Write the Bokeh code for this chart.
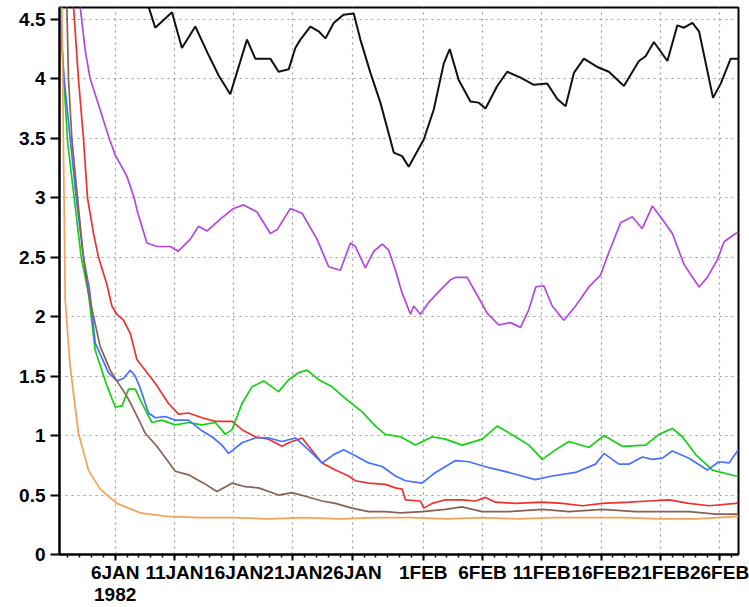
from bokeh.plotting import figure
from bokeh.models import Range1d, FixedTicker, PrintfTickFormatter
from bokeh.embed import file_html
from bokeh.resources import INLINE

# x values are days since 1982-01-01 00:00
tick_days = [5, 10, 15, 20, 25, 31, 36, 41, 46, 51, 56]
tick_labels = ["6JAN\n1982", "11JAN", "16JAN", "21JAN", "26JAN", "1FEB", "6FEB",
               "11FEB", "16FEB", "21FEB", "26FEB"]
y_ticks = [0, 0.5, 1, 1.5, 2, 2.5, 3, 3.5, 4, 4.5]

black_day = [0.3, 4.0, 7.0, 7.81, 8.38, 9.79, 10.63, 11.76, 12.88, 13.72, 14.71,
             16.12, 16.82, 18.09, 18.79, 19.64, 20.20, 20.63, 21.47, 22.17, 22.74,
             23.44, 24.28, 25.13, 25.69, 26.54, 27.38, 28.51, 29.21, 29.77, 31.04,
             31.88, 32.73, 33.23, 33.99, 34.98, 35.68, 36.25, 37.24, 38.08, 39.21,
             40.33, 41.46, 42.31, 43.01, 43.71, 44.55, 45.68, 46.66, 47.93, 49.20,
             49.76, 50.46, 51.60, 52.44, 53.00, 53.71, 54.27, 55.45, 56.10, 56.94, 57.6]
black_val = [8.0, 6.0, 4.9, 4.61, 4.43, 4.56, 4.26, 4.44, 4.20, 4.03, 3.87,
             4.33, 4.17, 4.17, 4.06, 4.08, 4.26, 4.33, 4.44, 4.40, 4.34,
             4.47, 4.54, 4.55, 4.33, 4.05, 3.80, 3.38, 3.35, 3.26, 3.49,
             3.74, 4.13, 4.25, 3.99, 3.81, 3.80, 3.75, 3.94, 4.06, 4.01,
             3.95, 3.96, 3.83, 3.77, 4.05, 4.17, 4.10, 4.06, 3.94, 4.15,
             4.19, 4.31, 4.15, 4.45, 4.43, 4.47, 4.40, 3.84, 3.96, 4.17, 4.17]

purple_day = [0.3, 2.04, 2.47, 2.89, 3.73, 4.49, 5.0, 5.99, 6.6, 6.83, 7.68, 8.52,
              9.65, 10.3, 11.33, 12.04, 12.74, 13.87, 14.99, 15.84, 16.97, 18.09,
              18.66, 19.78, 20.77, 22.04, 23.01, 24.00, 24.85, 25.27, 26.11, 26.82,
              27.53, 28.08, 28.65, 29.21, 29.92, 30.19, 30.76, 31.46, 32.31, 33.29,
              33.72, 34.70, 35.55, 36.39, 37.37, 38.36, 39.21, 39.91, 40.49, 41.17,
              41.88, 42.86, 43.85, 44.97, 45.96, 46.66, 47.65, 48.64, 49.48, 50.33,
              51.17, 52.02, 53.00, 54.27, 54.97, 55.82, 56.38, 57.36, 57.6]
purple_val = [6.1, 4.61, 4.24, 4.0, 3.74, 3.5, 3.36, 3.18, 3.0, 2.90, 2.62, 2.59,
              2.59, 2.55, 2.65, 2.76, 2.72, 2.82, 2.91, 2.94, 2.88, 2.70,
              2.73, 2.91, 2.87, 2.65, 2.42, 2.39, 2.62, 2.59, 2.41, 2.55,
              2.61, 2.56, 2.39, 2.20, 2.02, 2.09, 2.02, 2.12, 2.21, 2.31,
              2.33, 2.33, 2.18, 2.03, 1.93, 1.95, 1.91, 2.06, 2.25, 2.26,
              2.09, 1.97, 2.09, 2.25, 2.35, 2.54, 2.79, 2.84, 2.74, 2.93,
              2.82, 2.70, 2.44, 2.25, 2.33, 2.48, 2.63, 2.70, 2.71]

green_day = [0.3, 0.6, 1.0, 1.54, 2.13, 2.74, 3.31, 4.3, 5.0, 5.57, 6.12, 6.69, 7.26,
             8.10, 8.94, 10.07, 11.19, 12.32, 13.45, 14.29, 14.86, 15.70, 16.55,
             17.53, 18.79, 19.64, 20.48, 21.19, 22.17, 23.30, 24.70, 25.84, 26.96,
             27.80, 29.07, 30.34, 31.75, 32.87, 34.28, 35.97, 37.24, 38.78, 39.91,
             41.04, 42.16, 43.29, 44.97, 46.24, 47.80, 49.76, 50.89, 52.02, 52.86,
             53.99, 55.40, 57.36, 57.6]
green_val = [4.8, 4.1, 3.45, 3.0, 2.5, 2.2, 1.72, 1.42, 1.24, 1.25, 1.39, 1.39, 1.27,
             1.11, 1.13, 1.09, 1.11, 1.09, 1.11, 1.01, 1.05, 1.27, 1.41,
             1.46, 1.37, 1.47, 1.53, 1.55, 1.47, 1.41, 1.29, 1.20, 1.08,
             1.01, 0.99, 0.92, 0.99, 0.97, 0.92, 0.97, 1.08, 0.99, 0.92,
             0.80, 0.88, 0.95, 0.90, 1.00, 0.91, 0.92, 1.01, 1.06, 0.99,
             0.84, 0.71, 0.66, 0.66]

blue_day = [0.3, 0.69, 1.20, 1.71, 2.32, 2.83, 3.31, 4.43, 5.14, 5.70, 6.27, 6.69,
            7.11, 7.81, 8.38, 9.22, 10.07, 11.19, 12.32, 13.17, 14.01, 14.57, 15.70,
            16.82, 17.95, 19.08, 20.20, 21.33, 22.46, 23.44, 24.28, 25.27, 26.39,
            27.53, 28.65, 29.49, 30.90, 32.03, 33.72, 34.84, 36.53, 38.22, 40.47,
            41.88, 43.85, 45.54, 46.24, 47.51, 48.35, 49.48, 50.33, 51.17, 52.02,
            53.42, 54.97, 55.95, 56.80, 57.51, 57.6]
blue_val = [4.6, 4.0, 3.5, 3.0, 2.5, 2.23, 1.78, 1.53, 1.46, 1.48, 1.55, 1.50,
            1.40, 1.19, 1.15, 1.16, 1.13, 1.13, 1.04, 0.99, 0.92, 0.85, 0.94,
            0.98, 0.98, 0.95, 0.98, 0.88, 0.77, 0.84, 0.88, 0.83, 0.77,
            0.74, 0.66, 0.62, 0.60, 0.69, 0.79, 0.78, 0.73, 0.69, 0.63,
            0.66, 0.69, 0.76, 0.85, 0.76, 0.76, 0.82, 0.80, 0.81, 0.87,
            0.81, 0.71, 0.78, 0.77, 0.87, 0.88]

red_day = [0.3, 1.48, 1.90, 2.32, 2.66, 3.17, 3.59, 4.30, 4.72, 5.14, 5.70, 6.27,
           6.83, 7.68, 8.38, 9.50, 10.35, 11.19, 12.32, 13.45, 14.86, 15.70, 16.82,
           17.95, 19.08, 19.64, 20.77, 21.33, 22.46, 23.58, 24.70, 25.27, 26.39,
           27.80, 28.65, 29.21, 29.49, 30.76, 31.04, 31.75, 32.87, 34.28, 35.41,
           36.25, 37.09, 38.78, 41.04, 42.73, 44.42, 46.11, 48.35, 50.04, 51.73,
           53.42, 55.11, 57.36, 57.6]
red_val = [6.3, 4.61, 4.0, 3.5, 3.0, 2.70, 2.50, 2.27, 2.09, 2.02, 1.97, 1.86,
           1.64, 1.53, 1.44, 1.27, 1.18, 1.19, 1.15, 1.12, 1.12, 1.05, 0.99,
           0.97, 0.91, 0.94, 0.98, 0.91, 0.77, 0.71, 0.66, 0.62, 0.60,
           0.59, 0.56, 0.55, 0.46, 0.45, 0.39, 0.43, 0.46, 0.46, 0.45,
           0.48, 0.44, 0.43, 0.44, 0.43, 0.41, 0.43, 0.44, 0.45, 0.46,
           0.43, 0.41, 0.43, 0.44]

brown_day = [0.3, 0.92, 1.06, 1.34, 1.82, 2.32, 2.74, 3.73, 4.58, 5.14, 5.99, 6.41,
             7.11, 7.53, 8.52, 10.07, 11.19, 12.46, 13.59, 14.86, 15.98, 17.10,
             18.79, 19.92, 21.05, 22.46, 23.58, 24.99, 26.39, 27.80, 29.07, 30.90,
             32.87, 34.28, 35.97, 38.22, 41.04, 43.29, 46.11, 48.92, 51.17, 53.42,
             55.68, 57.6]
brown_val = [5.6, 4.61, 4.0, 3.5, 3.0, 2.5, 2.2, 1.75, 1.55, 1.46, 1.33, 1.25,
             1.11, 1.02, 0.91, 0.70, 0.67, 0.60, 0.53, 0.60, 0.57, 0.56,
             0.50, 0.52, 0.49, 0.45, 0.43, 0.39, 0.36, 0.36, 0.35, 0.36,
             0.38, 0.40, 0.36, 0.36, 0.38, 0.36, 0.38, 0.36, 0.36, 0.36,
             0.34, 0.34]

orange_day = [0.3, 0.5, 0.78, 1.2, 1.9, 2.74, 3.73, 5.14, 7.11, 9.37, 12.0, 15.0,
              18.0, 21.0, 24.0, 27.0, 30.0, 33.0, 36.0, 39.0, 42.0, 45.0, 48.0,
              51.0, 54.0, 57.6]
orange_val = [6.3, 4.61, 2.14, 1.58, 1.02, 0.71, 0.55, 0.43, 0.35, 0.32, 0.31, 0.31,
              0.30, 0.31, 0.30, 0.31, 0.31, 0.30, 0.31, 0.30, 0.31, 0.31, 0.31,
              0.30, 0.30, 0.32]

series = [
    (black_day, black_val, "#111111", 2.0),
    (purple_day, purple_val, "#b446e0", 1.7),
    (red_day, red_val, "#f03030", 1.7),
    (green_day, green_val, "#12d012", 1.7),
    (blue_day, blue_val, "#4670ff", 1.7),
    (brown_day, brown_val, "#8a6052", 1.7),
    (orange_day, orange_val, "#f5a058", 1.7),
]

p = figure(width=749, height=607, output_backend="svg", toolbar_location=None,
           x_range=Range1d(0.3, 57.6), y_range=Range1d(0, 4.6),
           min_border_left=59, min_border_right=11, min_border_top=7,
           min_border_bottom=52)

for d, v, c, w in series:
    p.line(d, v, line_color=c, line_width=w)

xt = FixedTicker(ticks=tick_days, minor_ticks=list(range(1, 58)))
p.xaxis.ticker = xt
p.xaxis.major_label_overrides = {d: lab for d, lab in zip(tick_days, tick_labels)}
p.yaxis.ticker = FixedTicker(ticks=y_ticks, minor_ticks=[])
p.yaxis.formatter = PrintfTickFormatter(format="%g")

for ax in (p.xaxis[0], p.yaxis[0]):
    ax.axis_line_width = 2
    ax.axis_line_color = "black"
    ax.major_tick_line_color = "black"
    ax.major_tick_line_width = 2
    ax.major_tick_in = 0
    ax.major_label_text_font = "Liberation Sans"
    ax.major_label_text_font_style = "bold"
    ax.major_label_text_color = "black"

p.xaxis.major_tick_out = 6
p.xaxis.minor_tick_out = 3
p.xaxis.minor_tick_in = 0
p.xaxis.minor_tick_line_color = "black"
p.xaxis.minor_tick_line_width = 1.5
p.xaxis.major_label_text_font_size = "19px"
p.xaxis.major_label_text_line_height = 1.05
p.xaxis.major_label_standoff = 1
p.yaxis.major_tick_out = 9
p.yaxis.major_label_text_font_size = "19px"
p.yaxis.major_label_standoff = 5

p.xgrid.ticker = xt
p.ygrid.ticker = FixedTicker(ticks=y_ticks[1:])
for g in (p.xgrid[0], p.ygrid[0]):
    g.grid_line_color = "#9a9a9a"
    g.grid_line_dash = "2 4"
    g.grid_line_width = 1.2

p.outline_line_color = "black"
p.outline_line_width = 2
p.outline_line_alpha = 1

open("out.html", "w").write(file_html(p, INLINE))
